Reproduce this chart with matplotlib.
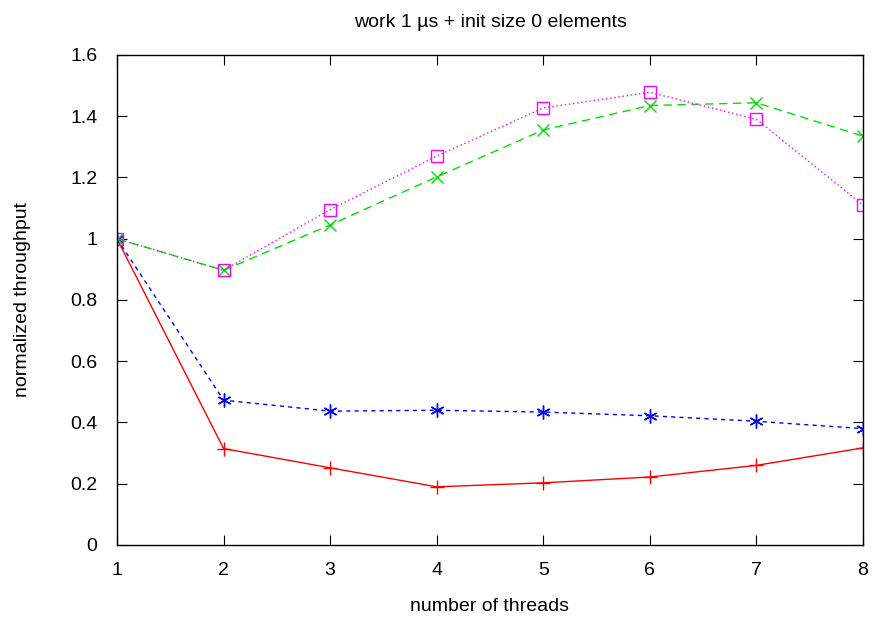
import matplotlib.pyplot as plt

threads = [1, 2, 3, 4, 5, 6, 7, 8]
red_vals = [1.0, 0.315, 0.252, 0.19, 0.203, 0.222, 0.26, 0.317]
blue_vals = [1.0, 0.473, 0.437, 0.44, 0.434, 0.422, 0.404, 0.38]
green_vals = [1.0, 0.897, 1.045, 1.202, 1.355, 1.435, 1.444, 1.335]
magenta_vals = [1.0, 0.897, 1.095, 1.27, 1.427, 1.478, 1.39, 1.11]

plt.rcParams['font.family'] = ['Liberation Sans', 'DejaVu Sans']

fig = plt.figure(figsize=(8.73, 6.17), dpi=100)
ax = fig.add_axes([0.134, 0.1167, 0.8545, 0.7942])

ax.plot(threads, red_vals, color='red', lw=1, marker='+', ms=10, mew=1)
ax.plot(threads, blue_vals, color='blue', lw=1, ls=(0, (3, 3)), marker=(6, 2, 0), ms=10, mew=1)
ax.plot(threads, green_vals, color='#00e000', lw=1, ls=(0, (6, 4)), marker='x', ms=9, mew=1)
ax.plot(threads, magenta_vals, color='magenta', lw=1, ls=(0, (1, 2)), marker='s', ms=8,
        mfc='none', mew=1)

ax.set_xlim(1, 8)
ax.set_ylim(0, 1.6)
ax.set_xticks(threads)
ax.set_yticks([0, 0.2, 0.4, 0.6, 0.8, 1.0, 1.2, 1.4, 1.6])
ax.set_yticklabels(['0', '0.2', '0.4', '0.6', '0.8', '1', '1.2', '1.4', '1.6'])
ax.tick_params(direction='in', top=True, right=True, length=7, labelsize=14)
ax.tick_params(axis='x', pad=12)
ax.tick_params(axis='y', pad=14)
for s in ax.spines.values():
    s.set_linewidth(1)

ax.set_title('work 1 \u00b5s + init size 0 elements', fontsize=14, pad=20)
ax.set_xlabel('number of threads', fontsize=14, labelpad=14)
ax.set_ylabel('normalized throughput', fontsize=14, labelpad=28)

plt.savefig('out.png')
